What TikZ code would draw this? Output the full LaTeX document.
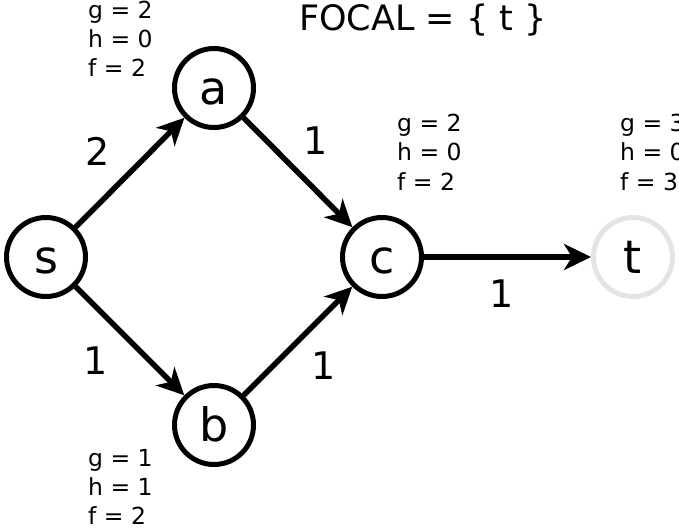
\documentclass[tikz,border=0pt]{standalone}
\usepackage{fontspec}
\setmainfont{DejaVu Sans}
\usetikzlibrary{arrows.meta}
\definecolor{faded}{RGB}{228,228,228}
\tikzset{
  vertex/.style={circle, draw=black, line width=5pt, minimum size=79pt, inner sep=0pt,
    font=\fontsize{46}{46}\selectfont, text height=32pt, text depth=0pt},
  arc/.style={line width=5.5pt, -{Stealth[length=27pt,width=26pt,inset=8pt]}},
  weight/.style={font=\fontsize{38}{38}\selectfont, inner sep=0pt},
  info/.style={font=\fontsize{23.5}{23.5}\selectfont, anchor=base west, inner sep=0pt},
}
\begin{document}
\begin{tikzpicture}[x=1pt,y=-1pt]
\clip (0,0) rectangle (679,528);
\node[vertex] (s) at (46,257) {s};
\node[vertex] (a) at (214,88) {a};
\node[vertex] (b) at (214,425) {b};
\node[vertex] (c) at (382,257) {c};
\node[vertex, draw=faded] (t) at (633,257) {t};
\draw[arc] (s) -- (a);
\draw[arc] (s) -- (b);
\draw[arc] (a) -- (c);
\draw[arc] (b) -- (c);
\draw[arc] (c) -- (t);
\node[weight] (wsa) at (98,151) {2};
\node[weight] (wsb) at (96,361) {1};
\node[weight] (wac) at (316,141) {1};
\node[weight] (wbc) at (324,366) {1};
\node[weight] (wct) at (502,294) {1};
\node[font=\fontsize{35}{35}\selectfont, anchor=base, inner sep=0pt] (focal) at (423,30) {FOCAL = \{ t \}};
% a
\node[info] (ag) at (88,18) {g = 2};
\node[info] (ah) at (88,47) {h = 0};
\node[info] (af) at (88,76.5) {f = 2};
% c
\node[info] (cg) at (397,131) {g = 2};
\node[info] (ch) at (397,160.5) {h = 0};
\node[info] (cf) at (397,190) {f = 2};
% b
\node[info] (bg) at (88,466) {g = 1};
\node[info] (bh) at (88,495) {h = 1};
\node[info] (bf) at (88,524) {f = 2};
% t
\node[info] (tg) at (620,131) {g = 3};
\node[info] (th) at (620,160.5) {h = 0};
\node[info] (tf) at (620,190) {f = 3};
\end{tikzpicture}
\end{document}
